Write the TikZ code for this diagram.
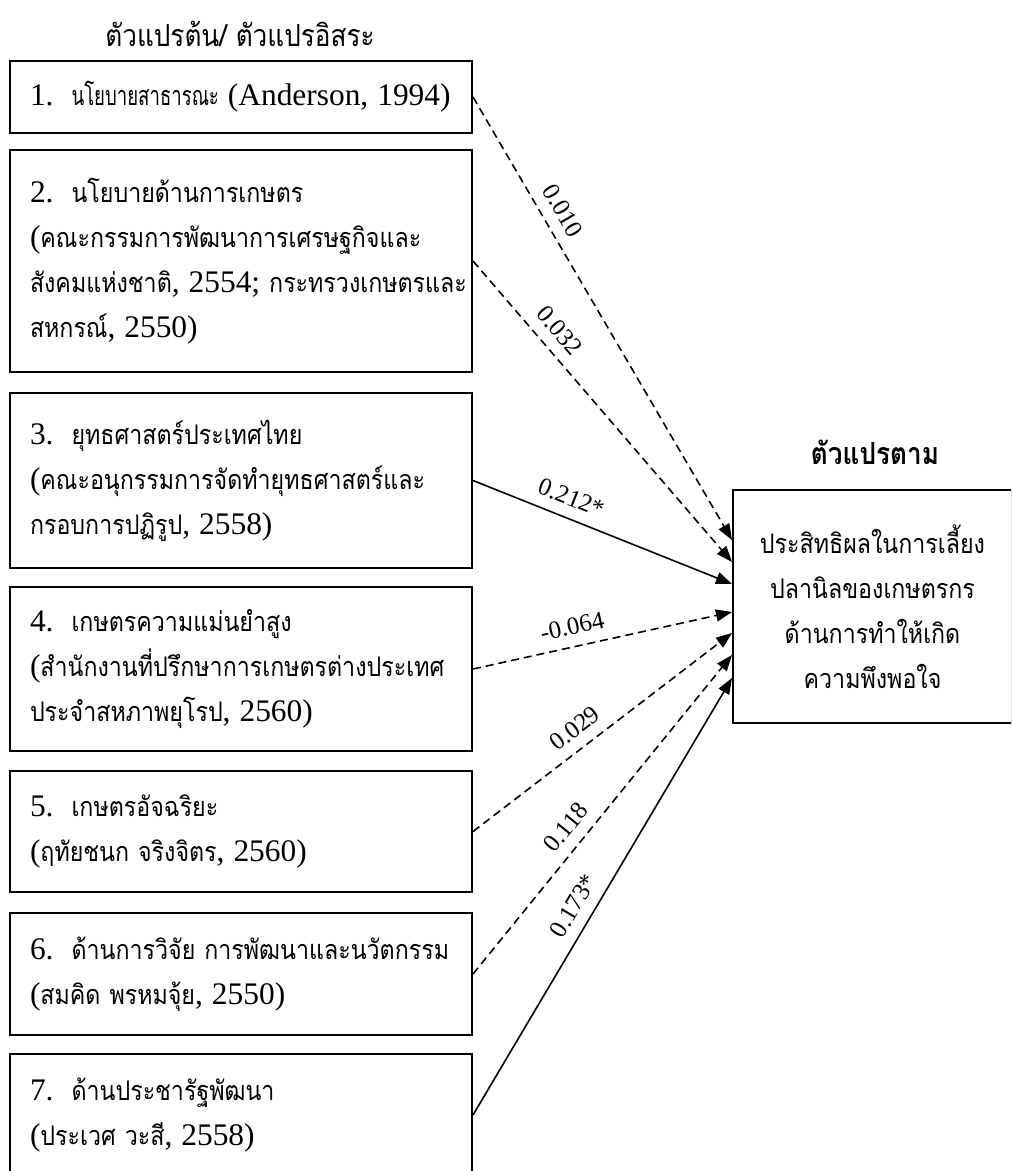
\documentclass[tikz,border=0pt]{standalone}
\usepackage{graphicx}
\usepackage{fontspec}
\setmainfont{Liberation Serif}
\newfontfamily\thai[Script=Thai, FakeStretch=0.86]{Loma}
\usetikzlibrary{arrows.meta}
% Thai body text and Latin runs inside it
\newcommand\tf{\thai\fontsize{13.5}{22.5}\selectfont}
\newcommand\la[1]{{\rmfamily\fontsize{15.7}{22.5}\selectfont #1}}
\tikzset{
  varbox/.style={draw, line width=1pt, minimum width=231pt, inner xsep=10pt,
    text width=211pt, align=left, font=\tf},
  depbox/.style={draw, line width=1pt, minimum width=139.5pt, minimum height=116.5pt,
    align=center, font=\tf},
  heading/.style={font=\thai\fontsize{15.2}{18}\selectfont},
  path/.style={line width=0.8pt, -{Triangle[length=8pt,width=6pt]}},
  nonsig/.style={path, dash pattern=on 4pt off 2.5pt},
  coef/.style={sloped, above=4.5pt, inner sep=1pt, font=\rmfamily\fontsize{12.5}{14}\selectfont}
}
\begin{document}
\begin{tikzpicture}[x=0.5pt, y=-0.5pt]
\clip (0,0) rectangle (1011,1171);
\fill[white] (0,0) rectangle (1011,1171);

% headings
\node[heading] (hin) at (240,34) {ตัวแปรต้น/~ตัวแปรอิสระ};
\node[heading, font=\thai\bfseries\fontsize{15.2}{18}\selectfont] (hout) at (875,452) {ตัวแปรตาม};

% independent variables
\node[varbox, minimum height=36pt] (b1) at (241,97)
  {\mbox{\la{1.}~~\scalebox{0.8}[1]{นโยบายสาธารณะ}~\la{(Anderson,~1994)}}};
\node[varbox, minimum height=111pt] (b2) at (241,261)
  {\la{2.}~~นโยบายด้านการเกษตร\\
   \la{(}คณะกรรมการพัฒนาการเศรษฐกิจและ\\
   สังคมแห่งชาติ\la{,~2554;}~กระทรวงเกษตรและ\\
   สหกรณ์\la{,~2550)}};
\node[varbox, minimum height=87.5pt] (b3) at (241,480.5)
  {\la{3.}~~ยุทธศาสตร์ประเทศไทย\\
   \la{(}คณะอนุกรรมการจัดทำยุทธศาสตร์และ\\
   กรอบการปฏิรูป\la{,~2558)}};
\node[varbox, minimum height=82pt] (b4) at (241,669)
  {\la{4.}~~เกษตรความแม่นยำสูง\\
   \la{(}สำนักงานที่ปรึกษาการเกษตรต่างประเทศ\\
   ประจำสหภาพยุโรป\la{,~2560)}};
\node[varbox, minimum height=60.5pt] (b5) at (241,831.5)
  {\la{5.}~~เกษตรอัจฉริยะ\\
   \la{(}ฤทัยชนก~จริงจิตร\la{,~2560)}};
\node[varbox, minimum height=61pt] (b6) at (241,974)
  {\la{6.}~~ด้านการวิจัย~การพัฒนาและนวัตกรรม\\
   \la{(}สมคิด~พรหมจุ้ย\la{,~2550)}};
\node[varbox, minimum height=61pt] (b7) at (241,1115)
  {\la{7.}~~ด้านประชารัฐพัฒนา\\
   \la{(}ประเวศ~วะสี\la{,~2558)}};

% dependent variable
\node[depbox] (dv) at (872.5,606.5)
  {ประสิทธิผลในการเลี้ยง\\ ปลานิลของเกษตรกร\\ ด้านการทำให้เกิด\\ ความพึงพอใจ};

% path coefficients
\draw[nonsig] (b1.east) -- ([yshift=33.25pt]dv.west) node[coef, pos=0.28] (c1) {0.010};
\draw[nonsig] (b2.east) -- ([yshift=22.25pt]dv.west) node[coef, pos=0.275] (c2) {0.032};
\draw[path]   (b3.east) -- ([yshift=11.25pt]dv.west) node[coef, pos=0.35] (c3) {0.212*};
\draw[nonsig] (b4.east) -- ([yshift=-2.75pt]dv.west) node[coef, pos=0.40] (c4) {-0.064};
\draw[nonsig] (b5.east) -- ([yshift=-13.25pt]dv.west) node[coef, pos=0.44] (c5) {0.029};
\draw[nonsig] (b6.east) -- ([yshift=-24.25pt]dv.west) node[coef, pos=0.42] (c6) {0.118};
\draw[path]   (b7.east) -- ([yshift=-35.75pt]dv.west) node[coef, pos=0.455] (c7) {0.173*};
\end{tikzpicture}
\end{document}
